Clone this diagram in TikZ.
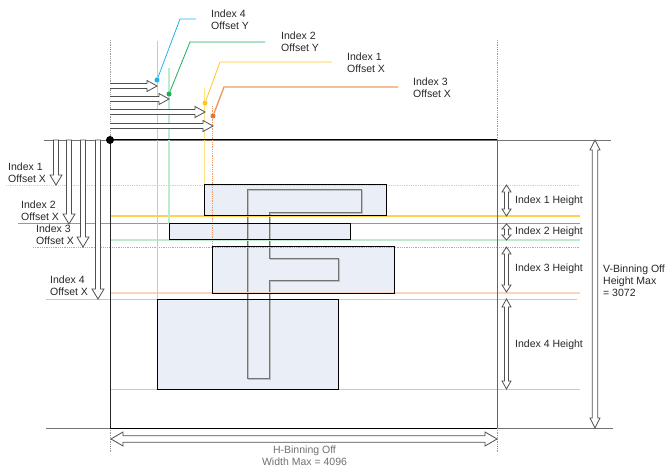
\documentclass[tikz,border=0pt]{standalone}
\usepackage{fontspec}
\setmainfont{Liberation Sans}
\definecolor{boxfill}{HTML}{EAEFF7}
\definecolor{dotBlue}{HTML}{1FB4E8}
\definecolor{guideBlue}{HTML}{9AD8F2}
\definecolor{dotGreen}{HTML}{1DAE5A}
\definecolor{guideGreen}{HTML}{46C485}
\definecolor{paleGreen}{HTML}{BDEBD2}
\definecolor{dotYellow}{HTML}{FFC825}
\definecolor{guideYellow}{HTML}{FFD34D}
\definecolor{dotOrange}{HTML}{E8772E}
\definecolor{guideOrange}{HTML}{EE9A66}
\definecolor{paleOrange}{HTML}{F9D5BD}
\definecolor{arrline}{HTML}{505050}
\definecolor{txtgrey}{HTML}{707070}
% right-pointing hollow arrow: x1, x2, y
\newcommand\hollowRight[3]{\draw[hollow] (#1,#3-2.5) -- (#2-10,#3-2.5) -- (#2-10,#3-5.5) -- (#2,#3) -- (#2-10,#3+5.5) -- (#2-10,#3+2.5) -- (#1,#3+2.5);}
% down-pointing hollow arrow: x, y1, y2
\newcommand\hollowDown[3]{\draw[hollow] (#1-2.5,#2) -- (#1-2.5,#3-10) -- (#1-6,#3-10) -- (#1,#3) -- (#1+6,#3-10) -- (#1+2.5,#3-10) -- (#1+2.5,#2) -- cycle;}
% vertical double arrow: x, y1, y2, head half width, shaft half width, head length
\newcommand\hollowVV[6]{\draw[hollow] (#1,#2) -- (#1+#4,#2+#6) -- (#1+#5,#2+#6) -- (#1+#5,#3-#6) -- (#1+#4,#3-#6) -- (#1,#3) -- (#1-#4,#3-#6) -- (#1-#5,#3-#6) -- (#1-#5,#2+#6) -- (#1-#4,#2+#6) -- cycle;}
% horizontal double arrow: x1, x2, y, head half height, shaft half height, head length
\newcommand\hollowHH[6]{\draw[hollow] (#1,#3) -- (#1+#6,#3-#4) -- (#1+#6,#3-#5) -- (#2-#6,#3-#5) -- (#2-#6,#3-#4) -- (#2,#3) -- (#2-#6,#3+#4) -- (#2-#6,#3+#5) -- (#1+#6,#3+#5) -- (#1+#6,#3+#4) -- cycle;}
\begin{document}
\begin{tikzpicture}[x=1pt,y=-1pt,
  lbl/.style={font=\fontsize{10.5}{12}\selectfont, text=black!85, inner sep=0pt, align=left},
  hollow/.style={draw=arrline, fill=white, line width=0.8pt, line join=miter},
  regbox/.style={fill=boxfill},
  regborder/.style={draw=black, line width=1pt},
  extline/.style={draw=black!55, line width=0.8pt},
  fine dots/.style={dash pattern=on 0.9pt off 0.9pt},
  dotline/.style={draw=black!40, line width=0.8pt, fine dots},
  dotmark/.style={circle, inner sep=0pt, minimum size=5pt},
]
\useasboundingbox (0,0) rectangle (666,470);

% extension lines of the sensor area
\draw[extline] (44,140) -- (611,140);
\draw[extline] (46,428) -- (613,428);
\draw[dotline] (110,40) -- (110,140);
\draw[dotline] (110,428) -- (110,452);
\draw[dotline] (497,40) -- (497,140);
\draw[dotline] (497,428) -- (497,452);

% region boxes (fill)
\fill[regbox] (204,185) rectangle (386,216);
\fill[regbox] (169,224) rectangle (350,240);
\fill[regbox] (212,247) rectangle (394,293);
\fill[regbox] (157,299) rectangle (338,389);

% F shape
\draw[black!25, line width=1pt, xshift=1.2pt, yshift=-1.2pt]
  (247,189) -- (361,189) -- (361,212) -- (269,212) -- (269,258) -- (338,258) -- (338,280) -- (269,280) -- (269,378) -- (247,378) -- cycle;
\draw[black!55, line width=0.8pt]
  (247,189) -- (361,189) -- (361,212) -- (269,212) -- (269,258) -- (338,258) -- (338,280) -- (269,280) -- (269,378) -- (247,378) -- cycle;

% horizontal guide lines
\draw[guideYellow, line width=0.9pt, fine dots] (6,185) -- (580,185);
\draw[guideYellow, line width=1.2pt] (110,216) -- (580,216);
\draw[guideGreen, line width=1pt] (18,224) -- (580,224);
\draw[paleGreen, line width=1.6pt] (110,240) -- (580,240);
\draw[guideOrange, line width=0.9pt, fine dots] (33,247) -- (580,247);
\draw[paleOrange, line width=2pt] (110,293) -- (580,293);
\draw[guideBlue, line width=1pt] (46,299) -- (577,299);
\draw[guideBlue, line width=1pt] (110,389) -- (580,389);

% vertical guide lines
\draw[guideBlue, line width=1pt] (157,41) -- (157,299);
\draw[paleGreen, line width=2pt] (169,68) -- (169,224);
\draw[guideYellow!70, line width=1pt] (204,88) -- (204,185);
\draw[guideOrange, line width=0.9pt, fine dots] (212,106) -- (212,247);

% region box borders
\draw[regborder] (204,185) rectangle (386,216);
\draw[regborder] (169,224) rectangle (350,240);
\draw[regborder] (212,247) rectangle (394,293);
\draw[regborder] (157,299) rectangle (338,389);

% sensor area
\draw[black, line width=1pt] (110,140) -- (497,140);
\draw[black, line width=1pt] (110,428) -- (497,428);
\draw[black!85, line width=1pt] (110,140) -- (110,428);
\draw[black!60, line width=1pt] (497,140) -- (497,428);
\node[circle, fill=black, inner sep=0pt, minimum size=8pt] (origin) at (110,140) {};

% top offset arrows
\hollowRight{110}{157}{86}
\hollowRight{110}{169}{99}
\hollowRight{110}{205}{112}
\hollowRight{110}{213}{126}

% leader callouts
\node[dotmark, fill=dotBlue] (d4) at (157,80) {};
\node[dotmark, fill=dotGreen] (d2) at (169,94) {};
\node[dotmark, fill=dotYellow] (d1) at (205,103) {};
\node[dotmark, fill=dotOrange] (d3) at (213,116) {};
\coordinate (k4) at (180,19);  \coordinate (e4) at (196,19);
\coordinate (k2) at (190,42);  \coordinate (e2) at (265,42);
\coordinate (k1) at (220,62);  \coordinate (e1) at (332,62);
\coordinate (k3) at (224,87);  \coordinate (e3) at (398,87);
\draw[dotBlue, line width=0.8pt] (d4) -- (k4) -- (e4);
\draw[dotGreen, line width=0.8pt] (d2) -- (k2) -- (e2);
\draw[dotYellow, line width=0.8pt] (d1) -- (k1) -- (e1);
\draw[guideOrange, line width=1.4pt] (d3) -- (k3) -- (e3);
\node[lbl, anchor=west] (t4) at (211,19.5) {Index 4\\Offset Y};
\node[lbl, anchor=west] (t2) at (281,42) {Index 2\\Offset Y};
\node[lbl, anchor=west] (t1) at (347,63) {Index 1\\Offset X};
\node[lbl, anchor=west] (t3) at (413,87.5) {Index 3\\Offset X};

% left offset arrows
\hollowDown{56}{140}{185}
\hollowDown{69}{140}{224}
\hollowDown{83}{140}{247}
\hollowDown{98}{140}{299}
\node[lbl, anchor=west] (l1) at (8,173) {Index 1\\Offset X};
\node[lbl, anchor=west] (l2) at (21,211) {Index 2\\Offset X};
\node[lbl, anchor=west] (l3) at (36,235) {Index 3\\Offset X};
\node[lbl, anchor=west] (l4) at (50,285.5) {Index 4\\Offset X};

% height arrows
\hollowVV{506.5}{185}{216}{4.5}{2}{7}
\hollowVV{506.5}{224}{240}{4.5}{2}{5}
\hollowVV{506.5}{247}{292}{4.5}{2}{7}
\hollowVV{506.5}{299}{389}{4.5}{2}{8}
\node[lbl, anchor=west] (h1) at (515,201) {Index 1 Height};
\node[lbl, anchor=west] (h2) at (515,232) {Index 2 Height};
\node[lbl, anchor=west] (h3) at (515,269) {Index 3 Height};
\node[lbl, anchor=west] (h4) at (515,345) {Index 4 Height};

% full-size arrows
\hollowVV{595}{140}{428}{5}{2.8}{10}
\node[lbl, anchor=west] (vb) at (603,281) {V-Binning Off\\Height Max\\= 3072};
\hollowHH{111}{497}{439}{7}{3.2}{12}
\node[lbl, align=center, text=txtgrey] (hb) at (304.5,456) {H-Binning Off\\Width Max = 4096};
\end{tikzpicture}
\end{document}
